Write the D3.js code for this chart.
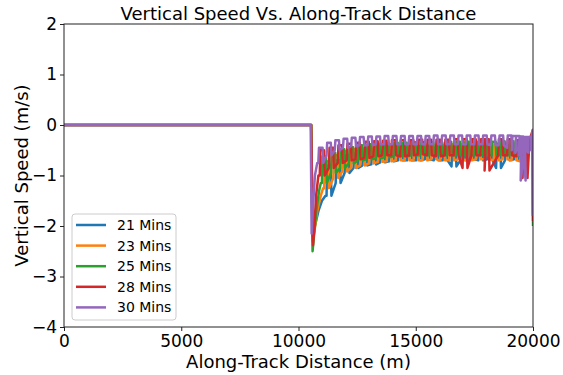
<!DOCTYPE html>
<html>
<head>
<meta charset="utf-8">
<script src="https://cdn.jsdelivr.net/npm/d3@7"></script>
<style>
  body { margin: 0; background: #fff; }
  text { font-family: "DejaVu Sans", sans-serif; }
</style>
</head>
<body>
<div id="wrapper"></div>
<script>
// series labels and colours (matplotlib tab10 order)
const names = ["21 Mins", "23 Mins", "25 Mins", "28 Mins", "30 Mins"]
const colors = ["#1f77b4", "#ff7f0e", "#2ca02c", "#d62728", "#9467bd"]

const xTicks = [0, 5000, 10000, 15000, 20000]
const yTicks = [-4, -3, -2, -1, 0, 1, 2]

// flat part, descent and recovery: [distance m, speed m/s]
const head21 = [[0, 0], [10540, 0], [10600, -2.2], [10700, -2.0], [10850, -1.7], [11000, -1.5], [11150, -1.4]]
const head23 = [[0, 0], [10540, 0], [10600, -2.3], [10680, -2.1], [10800, -1.7], [10950, -1.4], [11050, -1.25]]
const head25 = [[0, 0], [10540, 0], [10600, -2.5], [10660, -2.2], [10760, -1.7], [10880, -1.3], [10950, -1.15]]
const head28 = [[0, 0], [10540, 0], [10620, -2.38], [10680, -2.0], [10750, -1.4], [10850, -1.0]]
const head30 = [[0, 0], [10520, 0], [10560, -2.15], [10620, -1.6], [10700, -1.0], [10800, -0.75]]

// loop centres, loop tops and loop bottoms
const at21 = [11300, 11690, 12070, 12450, 12830, 13210, 13590, 13970, 14350, 14730, 15110, 15490, 15870, 16250, 16630, 17010, 17390, 17770, 18150, 18530, 18910, 19290, 19650]
const hi21 = [-0.8, -0.7, -0.6, -0.55, -0.5, -0.47, -0.45, -0.44, -0.43, -0.42, -0.42, -0.41, -0.41, -0.4, -0.4, -0.4, -0.4, -0.39, -0.39, -0.39, -0.39, -0.38, -0.38]
const lo21 = [-1.4, -1.15, -0.95, -0.85, -0.8, -0.78, -0.74, -0.72, -0.7, -0.7, -0.7, -0.68, -0.7, -0.7, -0.82, -0.7, -0.68, -0.7, -0.68, -0.85, -0.7, -0.68, -0.7]

const at23 = [11200, 11590, 11970, 12350, 12730, 13110, 13490, 13870, 14250, 14630, 15010, 15390, 15770, 16150, 16530, 16910, 17290, 17670, 18050, 18430, 18810, 19190, 19560]
const hi23 = [-0.72, -0.6, -0.52, -0.48, -0.45, -0.43, -0.42, -0.41, -0.4, -0.4, -0.4, -0.39, -0.39, -0.39, -0.38, -0.38, -0.38, -0.38, -0.37, -0.37, -0.37, -0.37, -0.37]
const lo23 = [-1.25, -1.05, -0.92, -0.85, -0.8, -0.76, -0.73, -0.72, -0.7, -0.7, -0.7, -0.7, -0.68, -0.7, -0.7, -0.68, -0.7, -0.68, -0.68, -0.7, -0.68, -0.7, -0.72]

const at25 = [11100, 11490, 11875, 12255, 12635, 13015, 13395, 13775, 14155, 14535, 14915, 15295, 15675, 16055, 16435, 16815, 17195, 17575, 17955, 18335, 18715, 19095, 19475]
const hi25 = [-0.62, -0.55, -0.48, -0.44, -0.4, -0.38, -0.37, -0.36, -0.35, -0.35, -0.34, -0.34, -0.34, -0.34, -0.33, -0.33, -0.33, -0.33, -0.33, -0.33, -0.32, -0.32, -0.32]
const lo25 = [-1.15, -0.95, -0.85, -0.76, -0.7, -0.68, -0.66, -0.64, -0.62, -0.62, -0.6, -0.6, -0.6, -0.6, -0.6, -0.6, -0.6, -0.6, -0.6, -0.6, -0.6, -0.6, -0.62]

const at28 = [11010, 11400, 11780, 12160, 12540, 12920, 13300, 13680, 14060, 14440, 14820, 15200, 15580, 15960, 16340, 16720, 17100, 17480, 17860, 18040, 18620, 19000, 19380, 19660]
const hi28 = [-0.5, -0.45, -0.4, -0.37, -0.35, -0.33, -0.32, -0.31, -0.3, -0.3, -0.3, -0.29, -0.29, -0.29, -0.29, -0.28, -0.28, -0.28, -0.28, -0.28, -0.28, -0.28, -0.3, -0.32]
const lo28 = [-1.0, -0.85, -0.75, -0.7, -0.68, -0.65, -0.62, -0.6, -0.6, -0.62, -0.6, -0.58, -0.6, -0.62, -0.6, -0.6, -0.85, -0.6, -0.6, -0.9, -0.6, -0.6, -0.62, -1.05]

const at30 = [10950, 11300, 11650, 12000, 12350, 12700, 13050, 13400, 13750, 14100, 14450, 14800, 15150, 15500, 15850, 16200, 16550, 16900, 17250, 17600, 17950, 18300, 18650, 19000, 19200, 19350, 19500, 19580, 19700, 19820]
const hi30 = [-0.45, -0.35, -0.3, -0.27, -0.25, -0.24, -0.23, -0.23, -0.22, -0.22, -0.22, -0.22, -0.22, -0.22, -0.21, -0.21, -0.21, -0.21, -0.21, -0.21, -0.21, -0.21, -0.21, -0.21, -0.22, -0.22, -0.23, -0.25, -0.24, -0.24]
const lo30 = [-0.75, -0.6, -0.5, -0.45, -0.42, -0.4, -0.4, -0.38, -0.38, -0.38, -0.38, -0.38, -0.38, -0.38, -0.38, -0.38, -0.38, -0.38, -0.38, -0.38, -0.38, -0.4, -0.4, -0.45, -0.5, -0.55, -0.6, -1.1, -0.55, -0.5]

// end of the track
const tail21 = [[19850, -0.4], [19990, -0.2], [20000, -1.8]]
const tail23 = [[19850, -0.4], [19990, -0.2], [20000, -1.75]]
const tail25 = [[19850, -0.35], [19990, -0.15], [20000, -2.0]]
const tail28 = [[19850, -0.3], [19990, -0.1], [20000, -1.9]]
const tail30 = [[19920, -0.3], [19990, -0.1], [20000, -1.8]]

const heads = [head21, head23, head25, head28, head30]
const ats = [at21, at23, at25, at28, at30]
const his = [hi21, hi23, hi25, hi28, hi30]
const los = [lo21, lo23, lo25, lo28, lo30]
const tails = [tail21, tail23, tail25, tail28, tail30]

function drawChart() {
  const dimensions = {
    width: 563,
    height: 375,
    margins: { top: 24, right: 30, bottom: 48, left: 64 },
  }
  dimensions.boundedWidth = dimensions.width - dimensions.margins.left - dimensions.margins.right
  dimensions.boundedHeight = dimensions.height - dimensions.margins.top - dimensions.margins.bottom

  const wrapper = d3.select("#wrapper")
    .append("svg")
      .attr("width", dimensions.width)
      .attr("height", dimensions.height)

  const bounds = wrapper.append("g")
      .attr("transform", `translate(${dimensions.margins.left},${dimensions.margins.top})`)

  const xScale = d3.scaleLinear()
    .domain([0, 20000])
    .range([0, dimensions.boundedWidth])

  const yScale = d3.scaleLinear()
    .domain([-4, 2])
    .range([dimensions.boundedHeight, 0])

  bounds.append("clipPath").attr("id", "clip")
    .append("rect")
      .attr("width", dimensions.boundedWidth)
      .attr("height", dimensions.boundedHeight)

  // each loop: steep rise from its bottom, flat top, steep fall back
  const halfLoop = 190
  const seriesPoints = names.map((n, i) => {
    const pts = heads[i].slice()
    ats[i].forEach((c, j) => {
      pts.push([c - halfLoop * 0.55, los[i][j]])
      pts.push([c - halfLoop * 0.4, his[i][j]])
      pts.push([c + halfLoop * 0.4, his[i][j]])
      pts.push([c + halfLoop * 0.55, los[i][j]])
    })
    return pts.concat(tails[i])
  })

  const lineGenerator = d3.line()
      .x(d => xScale(d[0]))
      .y(d => yScale(d[1]))

  bounds.append("g")
      .attr("clip-path", "url(#clip)")
    .selectAll("path")
    .data(seriesPoints)
    .join("path")
      .attr("d", d => lineGenerator(d))
      .attr("fill", "none")
      .attr("stroke", (d, i) => colors[i])
      .attr("stroke-width", 2.5)
      .attr("stroke-linejoin", "round")

  // frame
  bounds.append("rect")
      .attr("width", dimensions.boundedWidth)
      .attr("height", dimensions.boundedHeight)
      .attr("fill", "none")
      .attr("stroke", "#222")
      .attr("stroke-width", 1)

  // axes
  const xAxis = bounds.append("g")
      .attr("transform", `translate(0,${dimensions.boundedHeight})`)
      .call(d3.axisBottom(xScale).tickValues(xTicks).tickFormat(d3.format("d")).tickSize(4).tickSizeOuter(0).tickPadding(4))
  const yAxis = bounds.append("g")
      .call(d3.axisLeft(yScale).tickValues(yTicks).tickFormat(d3.format("d")).tickSize(4).tickSizeOuter(0).tickPadding(3))

  ;[xAxis, yAxis].forEach(a => {
    a.select(".domain").remove()
    a.selectAll("line").attr("stroke", "#222")
    a.selectAll("text")
      .style("font-size", "17px")
      .style("font-family", "DejaVu Sans")
      .attr("fill", "#000")
  })

  // title and labels
  wrapper.append("text")
      .attr("x", dimensions.margins.left + dimensions.boundedWidth / 2)
      .attr("y", 20)
      .attr("text-anchor", "middle")
      .style("font-size", "18px")
      .text("Vertical Speed Vs. Along-Track Distance")

  wrapper.append("text")
      .attr("x", dimensions.margins.left + dimensions.boundedWidth / 2)
      .attr("y", 368)
      .attr("text-anchor", "middle")
      .style("font-size", "18px")
      .text("Along-Track Distance (m)")

  wrapper.append("text")
      .attr("transform", `translate(28,${dimensions.margins.top + dimensions.boundedHeight / 2}) rotate(-90)`)
      .attr("text-anchor", "middle")
      .style("font-size", "18px")
      .text("Vertical Speed (m/s)")

  // legend
  const legend = bounds.append("g")
      .attr("transform", "translate(8,190)")
  legend.append("rect")
      .attr("width", 104)
      .attr("height", 106)
      .attr("rx", 3)
      .attr("fill", "#fff")
      .attr("fill-opacity", 0.8)
      .attr("stroke", "#ccc")
      .attr("stroke-width", 1)
  const rows = legend.selectAll(".row")
    .data(names)
    .join("g")
      .attr("transform", (d, i) => `translate(0,${11 + i * 20.6})`)
  rows.append("line")
      .attr("x1", 4).attr("x2", 34)
      .attr("stroke", (d, i) => colors[i])
      .attr("stroke-width", 2.5)
  rows.append("text")
      .attr("x", 45)
      .attr("dy", "0.35em")
      .style("font-size", "14px")
      .text(d => d)
}

drawChart()
</script>
</body>
</html>
